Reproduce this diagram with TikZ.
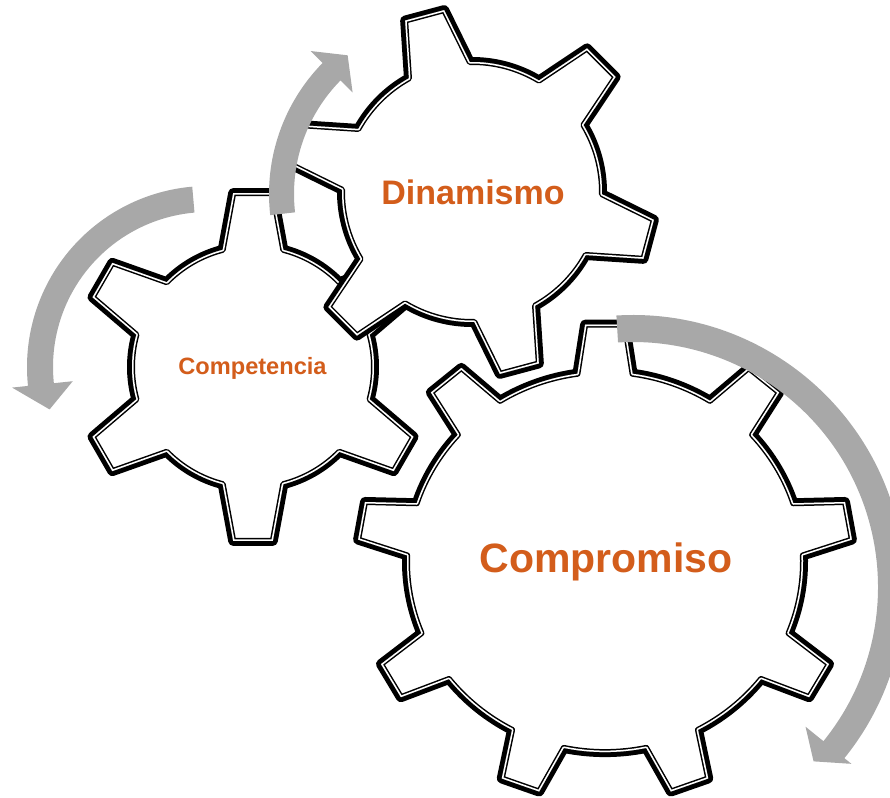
\documentclass[tikz,border=0pt]{standalone}
\usepackage{fontspec}
\setmainfont{Liberation Sans}
\definecolor{gearorange}{RGB}{211,93,27}
\definecolor{arrowgray}{RGB}{168,168,168}
\newcommand{\gearpath}[6]{({#6+360/#1-#4}:#2)
  \foreach \k [evaluate=\k as \a using {#6+\k*360/#1}] in {1,...,#1}
  { -- ({\a-#4}:#2) -- ({\a-#5}:#3) -- ({\a+#5}:#3) -- ({\a+#4}:#2)
    arc[start angle={\a+#4}, end angle={\a+360/#1-#4}, radius=#2] } -- cycle}
\def\competenciagear{\gearpath{6}{121}{175}{14.5}{6.5}{30}}
\def\dinamismogear{\gearpath{6}{130}{184}{14}{6.3}{45}}
\def\compromisogear{\gearpath{9}{198}{248}{8}{4.6}{50}}
\newcommand{\drawgear}[1]{%
  \draw[line width=10pt] #1;
  \fill[white] #1;
  \begin{scope}
    \clip #1;
    \draw[line width=6pt] #1;
    \draw[white, line width=3pt] #1;
  \end{scope}}
\tikzset{
  gearword/.style={text=gearorange, font=\bfseries, anchor=base, inner sep=0pt},
  spin/.style={fill=arrowgray}
}

\begin{document}
\begin{tikzpicture}[x=1pt, y=1pt, line join=round]
    \useasboundingbox (0,0) rectangle (890,797);
    \begin{scope}[shift={(253,430)}]
        \drawgear{\competenciagear}
    \end{scope}
    \begin{scope}[shift={(472,605)}]
        \drawgear{\dinamismogear}
    \end{scope}
    \begin{scope}[shift={(605,235)}, yscale=0.96]
        \drawgear{\compromisogear}
    \end{scope}
    \node[gearword, font=\bfseries\fontsize{23.6}{28}\selectfont] (competencia) at (252.5,422) {Competencia};
    \node[gearword, font=\bfseries\fontsize{34}{40}\selectfont] (dinamismo) at (473,592) {Dinamismo};
    \node[gearword, font=\bfseries\fontsize{41}{48}\selectfont] (compromiso) at (606,224) {Compromiso};
    \fill[spin, shift={(208,430)}] (95:181) arc[start angle=95, end angle=186, radius=181]
        -- (186:197) -- (195:164) -- (186:136) -- (186:155)
        arc[start angle=186, end angle=95, radius=155] -- cycle;
    \fill[spin, shift={(456,603)}] (186.5:187) arc[start angle=186.5, end angle=135.5, radius=187]
        -- (135.5:204) -- (128:176) -- (135.5:145) -- (135.5:162)
        arc[start angle=135.5, end angle=186.5, radius=162] -- cycle;
    \fill[spin, shift={(633,210)}] (93.5:272) arc[start angle=93.5, end angle=-39, radius=272]
        -- (-39:281) -- (-44:251) -- (-39:222) -- (-39:245)
        arc[start angle=-39, end angle=93.5, radius=245] -- cycle;
\end{tikzpicture}
\end{document}
